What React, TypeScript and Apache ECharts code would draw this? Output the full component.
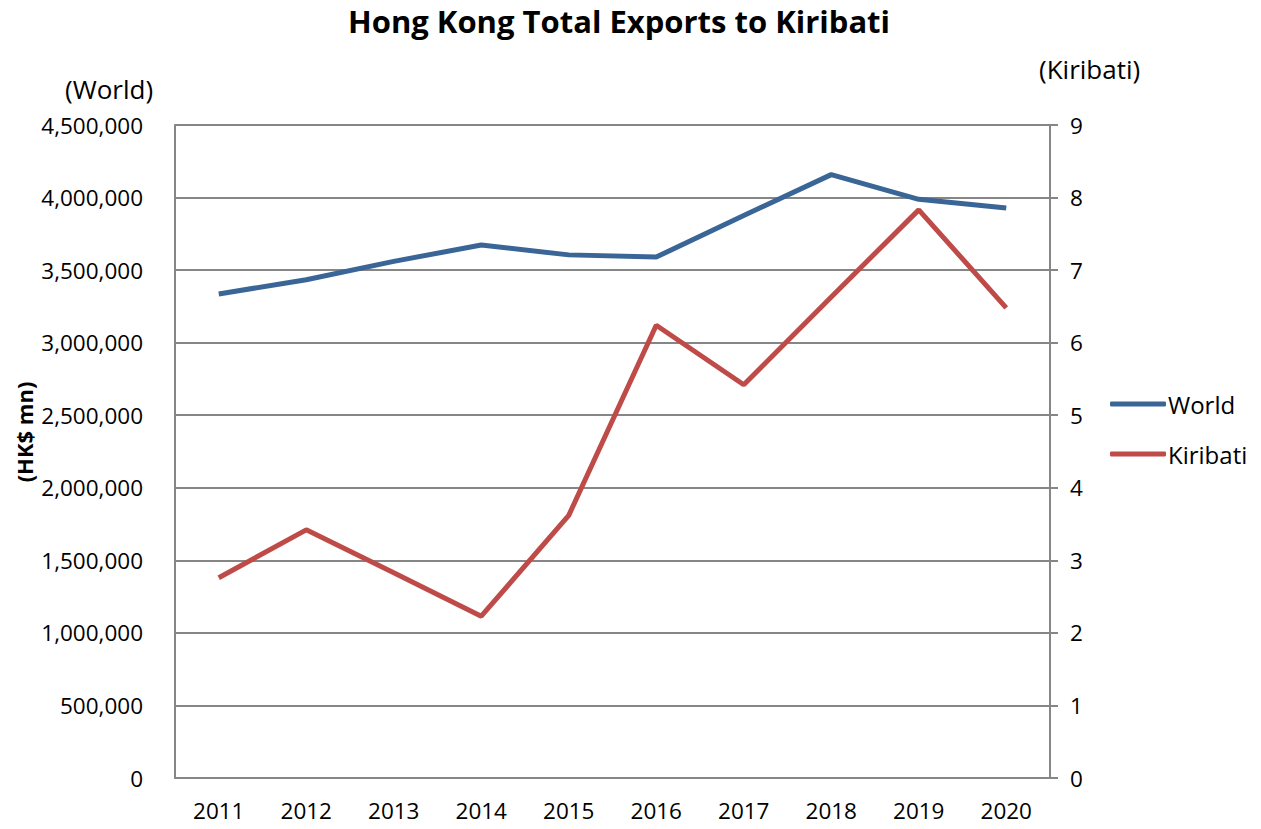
import React, { useEffect, useRef } from "react";
import * as echarts from "echarts";

const years = ["2011", "2012", "2013", "2014", "2015", "2016", "2017", "2018", "2019", "2020"];
const worldValues = [3336000, 3434000, 3560000, 3673000, 3605000, 3590000, 3876000, 4158000, 3988000, 3928000];
const kiribatiValues = [2.76, 3.42, 2.83, 2.23, 3.62, 6.24, 5.42, 6.63, 7.83, 6.48];
const titleText = "Hong Kong Total Exports to Kiribati";

const FONT = "'Open Sans', sans-serif";

export default function App() {
  const ref = useRef<HTMLDivElement>(null);
  useEffect(() => {
    if (!ref.current) return;
    const chart = echarts.init(ref.current, null, { renderer: "svg" });
    const axisLabel = { color: "#000", fontSize: 22.5, fontFamily: FONT };
    const gridLine = { show: true, lineStyle: { color: "#868686", width: 2 } };
    chart.setOption({
      animation: false,
      backgroundColor: "#fff",
      title: {
        text: titleText,
        left: 614,
        top: 0,
        textAlign: "center",
        textStyle: { fontSize: 31, fontWeight: "bold", color: "#000", fontFamily: FONT },
      },
      legend: {
        orient: "vertical",
        left: 1105,
        top: 387,
        itemWidth: 56,
        itemHeight: 5,
        itemGap: 26,
        textStyle: { fontSize: 24, color: "#000", fontFamily: FONT, padding: [0, 0, 0, -3] },
        data: [
          { name: "World", icon: "roundRect" },
          { name: "Kiribati", icon: "roundRect" },
        ],
      },
      grid: { left: 175, right: 211, top: 125, bottom: 51, containLabel: false },
      xAxis: {
        type: "category",
        data: years,
        boundaryGap: true,
        axisLine: { show: true, lineStyle: { color: "#868686", width: 2 } },
        axisTick: { show: false },
        axisLabel: { ...axisLabel, margin: 21 },
      },
      yAxis: [
        {
          type: "value",
          min: 0,
          max: 4500000,
          interval: 500000,
          position: "left",
          axisLine: { show: true, lineStyle: { color: "#868686", width: 2 } },
          axisTick: { show: false },
          splitLine: gridLine,
          axisLabel: {
            ...axisLabel,
            margin: 32,
            formatter: (v: number) => v.toLocaleString("en-US"),
          },
        },
        {
          type: "value",
          min: 0,
          max: 9,
          interval: 1,
          position: "right",
          axisLine: { show: true, lineStyle: { color: "#868686", width: 2 } },
          axisTick: { show: true, length: 8, lineStyle: { color: "#868686", width: 2 } },
          splitLine: { show: false },
          axisLabel: { ...axisLabel, margin: 20 },
        },
      ],
      graphic: [
        {
          type: "text",
          left: 65,
          top: 76,
          style: { text: "(World)", fontSize: 26, fill: "#000", fontFamily: FONT },
        },
        {
          type: "text",
          left: 1039,
          top: 56,
          style: { text: "(Kiribati)", fontSize: 26, fill: "#000", fontFamily: FONT },
        },
        {
          type: "text",
          x: 24,
          y: 432,
          rotation: Math.PI / 2,
          style: {
            text: "(HK$ mn)",
            fontSize: 22,
            fontWeight: "bold",
            fill: "#000",
            fontFamily: FONT,
            align: "center",
            verticalAlign: "middle",
          },
        },
      ],
      series: [
        {
          name: "World",
          type: "line",
          yAxisIndex: 0,
          data: worldValues,
          symbol: "none",
          lineStyle: { color: "#3a6597", width: 5 },
          itemStyle: { color: "#3a6597" },
        },
        {
          name: "Kiribati",
          type: "line",
          yAxisIndex: 1,
          data: kiribatiValues,
          symbol: "none",
          lineStyle: { color: "#be4b48", width: 5 },
          itemStyle: { color: "#be4b48" },
        },
      ],
    });
    return () => chart.dispose();
  }, []);
  return (
    <div
      ref={ref}
      style={{ position: "fixed", left: 0, top: 0, width: 1261, height: 829 }}
    />
  );
}
